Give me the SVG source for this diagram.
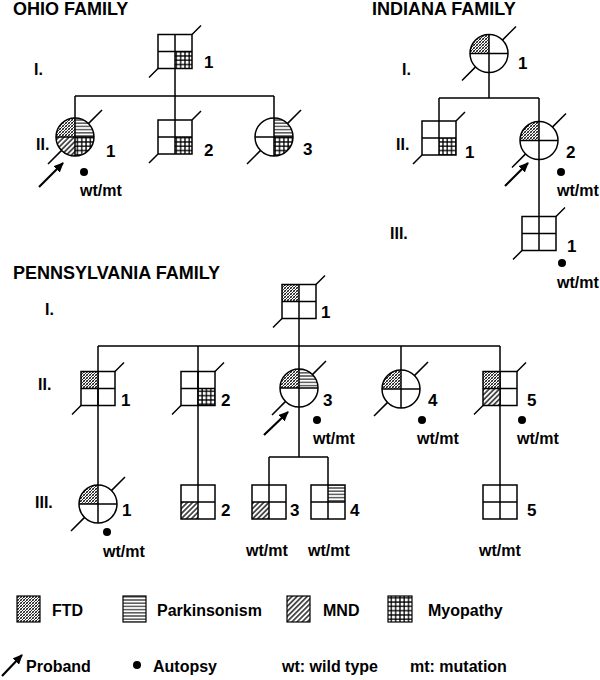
<svg xmlns="http://www.w3.org/2000/svg" width="600" height="680" viewBox="0 0 600 680">
<style>
.ln{fill:none;stroke:#000;stroke-width:1.5}
.sh{fill:none;stroke:#000;stroke-width:1.5}
.t{font-family:"Liberation Sans",Arial,sans-serif;font-weight:bold;font-size:16px;fill:#000}
.title{font-size:18px}
.num{font-size:17px}
.arr{stroke:#000;stroke-width:2.2;fill:none;marker-end:url(#ah)}
.ftd{fill:url(#pFTD)}
.park{fill:url(#pPARK)}
.mnd{fill:url(#pMND)}
.myo{fill:url(#pMYO)}
</style>
<defs>
<pattern id="pFTD" patternUnits="userSpaceOnUse" width="3" height="3">
<rect width="3" height="3" fill="#fff"/>
<path d="M-1,1 L1,-1 M0,3 L3,0 M2,4 L4,2" stroke="#000" stroke-width="0.9"/>
<path d="M-1,2 L1,4 M0,0 L3,3 M2,-1 L4,1" stroke="#444" stroke-width="0.7"/>
</pattern>
<pattern id="pPARK" patternUnits="userSpaceOnUse" width="4" height="3.2">
<rect width="4" height="3.2" fill="#fff"/>
<path d="M0,1.6 H4" stroke="#000" stroke-width="1"/>
</pattern>
<pattern id="pMND" patternUnits="userSpaceOnUse" width="3.6" height="3.6" patternTransform="rotate(45)">
<rect width="3.6" height="3.6" fill="#fff"/>
<path d="M1.8,0 V3.6" stroke="#000" stroke-width="1.3"/>
</pattern>
<pattern id="pMYO" patternUnits="userSpaceOnUse" width="4.3" height="4.3">
<rect width="4.3" height="4.3" fill="#000"/>
<rect x="0.7" y="0.7" width="3" height="3" fill="#fff"/>
</pattern>
<marker id="ah" markerUnits="userSpaceOnUse" markerWidth="10" markerHeight="9" refX="9" refY="4.5" orient="auto">
<path d="M0,0 L10,4.5 L0,9 Z" fill="#000"/>
</marker>
</defs>
<rect width="600" height="680" fill="#fff"/>

<!-- Titles and generation labels -->
<g id="labels">
<text class="t title" x="13" y="15">OHIO FAMILY</text>
<text class="t title" x="372" y="15">INDIANA FAMILY</text>
<text class="t title" x="13" y="279">PENNSYLVANIA FAMILY</text>
<text class="t" x="34" y="75">I.</text>
<text class="t" x="36" y="150">II.</text>
<text class="t" x="402" y="75">I.</text>
<text class="t" x="396" y="150">II.</text>
<text class="t" x="390" y="239">III.</text>
<text class="t" x="45" y="315">I.</text>
<text class="t" x="38" y="390">II.</text>
<text class="t" x="35" y="508">III.</text>
</g>

<!-- Connectors -->
<g id="connectors">
<path class="ln" d="M175,68.5 V120 M75,96 H274 M75,96 V118 M274,96 V118"/>
<path class="ln" d="M489,72.5 V98 M439,98 H539 M439,98 V121 M539,98 V121.5 M539,159.5 V216.5"/>
<path class="ln" d="M299,318.5 V346 M98,346 H500 M98,346 V485 M198,346 V485 M299,346 V369 M401,346 V370 M500,346 V485 M299,407 V457 M269,457 H328 M269,457 V485 M328,457 V485"/>
</g>

<!-- OHIO -->
<g id="ohio-I1">
<rect class="myo" x="175" y="51.5" width="17" height="17"/>
<rect class="sh" x="158" y="34.5" width="34" height="34"/>
<path class="ln" d="M175,34.5 V68.5 M158,51.5 H192 M158,68.5 L149,77.5 M192,34.5 L201,25.5"/>
<text class="t num" x="204" y="68">1</text>
</g>
<g id="ohio-II1">
<path class="ftd" d="M75,137 L56,137 A19,19 0 0 1 75,118 Z"/>
<path class="park" d="M75,137 L75,118 A19,19 0 0 1 94,137 Z"/>
<path class="mnd" d="M75,137 L75,156 A19,19 0 0 1 56,137 Z"/>
<path class="myo" d="M75,137 L94,137 A19,19 0 0 1 75,156 Z"/>
<circle class="sh" cx="75" cy="137" r="19"/>
<path class="ln" d="M75,118 V156 M56,137 H94 M61.6,150.4 L48,164 M88.4,123.6 L102,110"/>
<text class="t num" x="106" y="157">1</text>
<path class="arr" d="M39,187 L63,163"/>
<circle cx="84" cy="172" r="4"/>
<text class="t" x="80" y="196">wt/mt</text>
</g>
<g id="ohio-II2">
<rect class="myo" x="175" y="137" width="17" height="17"/>
<rect class="sh" x="158" y="120" width="34" height="34"/>
<path class="ln" d="M175,120 V154 M158,137 H192 M158,154 L149,163 M192,120 L201,111"/>
<text class="t num" x="204" y="156">2</text>
</g>
<g id="ohio-II3">
<path class="park" d="M274,137 L274,118 A19,19 0 0 1 293,137 Z"/>
<path class="myo" d="M274,137 L293,137 A19,19 0 0 1 274,156 Z"/>
<circle class="sh" cx="274" cy="137" r="19"/>
<path class="ln" d="M274,118 V156 M255,137 H293 M260.6,150.4 L247,164 M287.4,123.6 L301,110"/>
<text class="t num" x="303" y="155">3</text>
</g>

<!-- INDIANA -->
<g id="indiana-I1">
<path class="ftd" d="M489,53.5 L470,53.5 A19,19 0 0 1 489,34.5 Z"/>
<circle class="sh" cx="489" cy="53.5" r="19"/>
<path class="ln" d="M489,34.5 V72.5 M470,53.5 H508 M475.6,66.9 L462,80.5 M502.4,40.1 L516,26.5"/>
<text class="t num" x="518" y="69">1</text>
</g>
<g id="indiana-II1">
<rect class="myo" x="439" y="138" width="17" height="17"/>
<rect class="sh" x="422" y="121" width="34" height="34"/>
<path class="ln" d="M439,121 V155 M422,138 H456 M422,155 L413,164 M456,121 L465,112"/>
<text class="t num" x="465" y="158">1</text>
</g>
<g id="indiana-II2">
<path class="ftd" d="M539,140.5 L520,140.5 A19,19 0 0 1 539,121.5 Z"/>
<circle class="sh" cx="539" cy="140.5" r="19"/>
<path class="ln" d="M539,121.5 V159.5 M520,140.5 H558 M525.6,153.9 L512,167.5 M552.4,127.1 L566,113.5"/>
<text class="t num" x="566" y="158">2</text>
<path class="arr" d="M505,186 L528,163"/>
<circle cx="561" cy="172" r="4"/>
<text class="t" x="557" y="196">wt/mt</text>
</g>
<g id="indiana-III1">
<rect class="sh" x="522" y="216.5" width="34" height="34"/>
<path class="ln" d="M539,216.5 V250.5 M522,233.5 H556 M522,250.5 L513,259.5 M556,216.5 L565,207.5"/>
<text class="t num" x="567" y="252">1</text>
<circle cx="562" cy="263" r="4"/>
<text class="t" x="557" y="288">wt/mt</text>
</g>

<!-- PENNSYLVANIA -->
<g id="penn-I1">
<rect class="ftd" x="282" y="284.5" width="17" height="17"/>
<rect class="sh" x="282" y="284.5" width="34" height="34"/>
<path class="ln" d="M299,284.5 V318.5 M282,301.5 H316 M282,318.5 L273,327.5 M316,284.5 L325,275.5"/>
<text class="t num" x="321" y="318">1</text>
</g>
<g id="penn-II1">
<rect class="ftd" x="81" y="371.5" width="17" height="17"/>
<rect class="sh" x="81" y="371.5" width="34" height="34"/>
<path class="ln" d="M98,371.5 V405.5 M81,388.5 H115 M81,405.5 L72,414.5 M115,371.5 L124,362.5"/>
<text class="t num" x="121" y="406">1</text>
</g>
<g id="penn-II2">
<rect class="myo" x="198" y="388.5" width="17" height="17"/>
<rect class="sh" x="181" y="371.5" width="34" height="34"/>
<path class="ln" d="M198,371.5 V405.5 M181,388.5 H215 M181,405.5 L172,414.5 M215,371.5 L224,362.5"/>
<text class="t num" x="221" y="406">2</text>
</g>
<g id="penn-II3">
<path class="ftd" d="M299,388 L280,388 A19,19 0 0 1 299,369 Z"/>
<path class="park" d="M299,388 L299,369 A19,19 0 0 1 318,388 Z"/>
<circle class="sh" cx="299" cy="388" r="19"/>
<path class="ln" d="M299,369 V407 M280,388 H318 M285.6,401.4 L272,415 M312.4,374.6 L326,361"/>
<text class="t num" x="323" y="406">3</text>
<path class="arr" d="M264,435 L288,412"/>
<circle cx="317" cy="420" r="4"/>
<text class="t" x="313" y="444">wt/mt</text>
</g>
<g id="penn-II4">
<path class="ftd" d="M401,389 L382,389 A19,19 0 0 1 401,370 Z"/>
<circle class="sh" cx="401" cy="389" r="19"/>
<path class="ln" d="M401,370 V408 M382,389 H420 M387.6,402.4 L374,416 M414.4,375.6 L428,362"/>
<text class="t num" x="428" y="406">4</text>
<circle cx="422" cy="420" r="4"/>
<text class="t" x="417" y="444">wt/mt</text>
</g>
<g id="penn-II5">
<rect class="ftd" x="483" y="371.5" width="17" height="17"/>
<rect class="mnd" x="483" y="388.5" width="17" height="17"/>
<rect class="sh" x="483" y="371.5" width="34" height="34"/>
<path class="ln" d="M500,371.5 V405.5 M483,388.5 H517 M483,405.5 L474,414.5 M517,371.5 L526,362.5"/>
<text class="t num" x="527" y="406">5</text>
<circle cx="522" cy="420" r="4"/>
<text class="t" x="517" y="444">wt/mt</text>
</g>
<g id="penn-III1">
<path class="ftd" d="M98,504 L79,504 A19,19 0 0 1 98,485 Z"/>
<circle class="sh" cx="98" cy="504" r="19"/>
<path class="ln" d="M98,485 V523 M79,504 H117 M84.6,517.4 L71,531 M111.4,490.6 L125,477"/>
<text class="t num" x="122" y="516">1</text>
<circle cx="107" cy="532" r="4"/>
<text class="t" x="103" y="557">wt/mt</text>
</g>
<g id="penn-III2">
<rect class="mnd" x="181" y="502" width="17" height="17"/>
<rect class="sh" x="181" y="485" width="34" height="34"/>
<path class="ln" d="M198,485 V519 M181,502 H215"/>
<text class="t num" x="221" y="516">2</text>
</g>
<g id="penn-III3">
<rect class="mnd" x="252" y="502" width="17" height="17"/>
<rect class="sh" x="252" y="485" width="34" height="34"/>
<path class="ln" d="M269,485 V519 M252,502 H286"/>
<text class="t num" x="290" y="516">3</text>
<text class="t" x="246" y="556">wt/mt</text>
</g>
<g id="penn-III4">
<rect class="park" x="328" y="485" width="17" height="17"/>
<rect class="sh" x="311" y="485" width="34" height="34"/>
<path class="ln" d="M328,485 V519 M311,502 H345"/>
<text class="t num" x="350" y="516">4</text>
<text class="t" x="308" y="556">wt/mt</text>
</g>
<g id="penn-III5">
<rect class="sh" x="483" y="485" width="34" height="34"/>
<path class="ln" d="M500,485 V519 M483,502 H517"/>
<text class="t num" x="527" y="516">5</text>
<text class="t" x="479" y="556">wt/mt</text>
</g>

<!-- LEGEND -->
<g id="legend">
<rect class="ftd" x="17" y="596" width="23" height="26" stroke="#000" stroke-width="1.2"/>
<text class="t" x="52" y="616">FTD</text>
<rect class="park" x="123" y="596" width="23" height="26" stroke="#000" stroke-width="1.2"/>
<text class="t" x="157" y="616">Parkinsonism</text>
<rect class="mnd" x="287" y="596" width="23" height="26" stroke="#000" stroke-width="1.2"/>
<text class="t" x="323" y="616">MND</text>
<rect class="myo" x="388" y="596" width="24" height="26" stroke="#000" stroke-width="1.2"/>
<text class="t" x="428" y="616">Myopathy</text>
<path class="arr" d="M2,676 L22,655"/>
<text class="t" x="26" y="672">Proband</text>
<circle cx="137" cy="665" r="4"/>
<text class="t" x="153" y="672">Autopsy</text>
<text class="t" x="282" y="672">wt: wild type</text>
<text class="t" x="410" y="672">mt: mutation</text>
</g>
</svg>
